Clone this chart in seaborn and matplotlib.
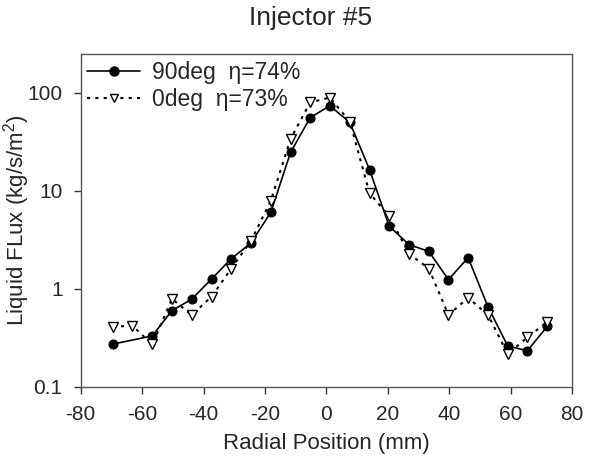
import numpy as np
import pandas as pd
import seaborn as sns
import matplotlib.pyplot as plt
from matplotlib.lines import Line2D

# radial positions of the probe (mm)
radial_pos = [-69.6, -63.2, -56.7, -50.3, -43.9, -37.4, -31.0, -24.6, -18.1, -11.7, -5.3, 1.1,
              7.6, 14.0, 20.4, 26.9, 33.3, 39.7, 46.1, 52.6, 59.0, 65.4, 71.9]

# liquid flux, 90deg orientation (no reading at second position)
flux_90 = [0.272, np.nan, 0.33, 0.60, 0.78, 1.26, 2.03, 2.93, 6.05, 24.7, 56, 74,
           50, 16.5, 4.36, 2.82, 2.41, 1.24, 2.08, 0.65, 0.26, 0.233, 0.415]

# liquid flux, 0deg orientation
flux_0 = [0.41, 0.42, 0.27, 0.79, 0.54, 0.83, 1.61, 3.07, 7.96, 33.9, 80, 89.8,
          51, 9.5, 5.5, 2.28, 1.61, 0.54, 0.81, 0.54, 0.215, 0.32, 0.46]

series_names = ['90deg  \u03b7=74%', '0deg  \u03b7=73%']
x_ticks = [-80, -60, -40, -20, 0, 20, 40, 60, 80]
y_ticks = [0.1, 1, 10, 100]
y_tick_labels = ['0.1', '1', '10', '100']

df = pd.DataFrame({
    'pos': radial_pos * 2,
    'flux': flux_90 + flux_0,
    'series': [series_names[0]] * len(radial_pos) + [series_names[1]] * len(radial_pos),
}).dropna()

sns.set_style('ticks')
plt.rcParams['font.family'] = ['Liberation Sans', 'DejaVu Sans']
plt.rcParams['mathtext.fontset'] = 'custom'
plt.rcParams['mathtext.rm'] = 'Liberation Sans'
plt.rcParams['mathtext.it'] = 'Liberation Sans'

fig = plt.figure(figsize=(5.96, 4.62), dpi=100)
ax = fig.add_axes([0.1354, 0.163, 0.8248, 0.7201])

dotted = (0, (1.5, 2.5))

d90 = df[df['series'] == series_names[0]]
d0 = df[df['series'] == series_names[1]]

sns.lineplot(data=d90, x='pos', y='flux', ax=ax, color='black', lw=1.2,
             marker='o', markersize=6.5, markerfacecolor='black', markeredgecolor='black',
             sort=False, legend=False)
sns.lineplot(data=d0, x='pos', y='flux', ax=ax, color='black', lw=1.5, linestyle=dotted,
             marker='v', markersize=7, markerfacecolor='white', markeredgecolor='black',
             markeredgewidth=1.0, sort=False, legend=False)

ax.set_yscale('log')
ax.set_xlim(-80, 80)
ax.set_ylim(0.1, 250)
ax.set_xticks(x_ticks)
ax.set_xticklabels([str(t) for t in x_ticks])
ax.set_yticks(y_ticks)
ax.set_yticklabels(y_tick_labels)
ax.minorticks_off()
ax.tick_params(axis='both', labelsize=15, direction='out', length=5, width=1,
               color='#333333', pad=8)

for s in ax.spines.values():
    s.set_color('#555555')
    s.set_linewidth(1.0)

ax.set_xlabel('Radial Position (mm)', fontsize=16)
ax.xaxis.set_label_coords(0.5, -0.139)
ax.set_ylabel(r'Liquid FLux (kg/s/m$^2$)', fontsize=16)
ax.yaxis.set_label_coords(-0.099, 0.5)
ax.set_title('Injector #5', fontsize=19, pad=21, x=0.4685)

handles = [
    Line2D([], [], color='black', lw=1.2, marker='o', markersize=6.5),
    Line2D([], [], color='black', lw=1.5, linestyle=dotted, marker='v', markersize=6,
           markerfacecolor='white', markeredgecolor='black'),
]
ax.legend(handles, series_names, loc='upper left', frameon=False, fontsize=16.5,
          handlelength=2.3, borderaxespad=0, borderpad=0.29, labelspacing=0.2,
          handletextpad=0.52)

fig.savefig('out.png', dpi=100)
